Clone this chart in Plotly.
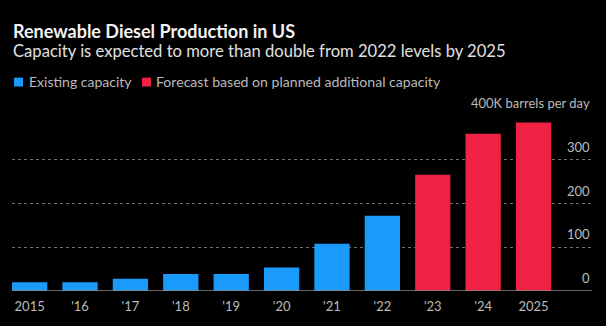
import plotly.graph_objects as go

years_existing = ["2015", "'16", "'17", "'18", "'19", "'20", "'21", "'22"]
values_existing = [20, 20, 28, 39, 39, 54, 108, 172]
years_forecast = ["'23", "'24", "2025"]
values_forecast = [266, 360, 386]
categories = years_existing + years_forecast
y_ticks = [0, 100, 200, 300]
y_top_label = "400K barrels per day"

BLUE = "#1A9BFC"
RED = "#EF2243"
W, H = 606, 326
ML, MR, MT, MB = 12, 14, 116, 32
PW, PH = W - ML - MR, H - MT - MB
FONT = "Lato"


def px_x(x):
    return (x - ML) / PW


def px_y(y):
    return (H - MB - y) / PH


fig = go.Figure()
fig.add_trace(go.Bar(x=years_existing, y=values_existing, marker_color=BLUE,
                     marker_line_width=0, width=0.7, name="Existing capacity",
                     showlegend=False))
fig.add_trace(go.Bar(x=years_forecast, y=values_forecast, marker_color=RED,
                     marker_line_width=0, width=0.7,
                     name="Forecast based on planned additional capacity",
                     showlegend=False))

annotations = [
    dict(text="<b>Renewable Diesel Production in US</b>", x=px_x(11), y=px_y(30),
         xanchor="left", yanchor="middle", font=dict(size=18, color="#F2F2F2")),
    dict(text="Capacity is expected to more than double from 2022 levels by 2025",
         x=px_x(11), y=px_y(49.5), xanchor="left", yanchor="middle",
         font=dict(size=16.6, color="#E0E0E0")),
    dict(text="Existing capacity", x=px_x(27), y=px_y(81), xanchor="left",
         yanchor="middle", font=dict(size=14, color="#BBBBBB")),
    dict(text="Forecast based on planned additional capacity", x=px_x(154),
         y=px_y(81), xanchor="left", yanchor="middle",
         font=dict(size=14.1, color="#BBBBBB")),
]
for v in y_ticks:
    annotations.append(dict(text=str(v), x=1, y=v, yref="y", xanchor="right",
                            yanchor="bottom", yshift=3, showarrow=False,
                            font=dict(size=13, color="#BBBBBB")))
annotations.append(dict(text=y_top_label, x=1, y=400, yref="y", xanchor="right",
                        yanchor="bottom", yshift=3, showarrow=False,
                        font=dict(size=13, color="#BBBBBB")))
for a in annotations:
    a.setdefault("xref", "paper")
    a.setdefault("yref", "paper")
    a.setdefault("showarrow", False)

shapes = [
    dict(type="rect", xref="paper", yref="paper", x0=px_x(14), x1=px_x(23),
         y0=px_y(77), y1=px_y(86), fillcolor=BLUE, line_width=0),
    dict(type="rect", xref="paper", yref="paper", x0=px_x(142), x1=px_x(151),
         y0=px_y(77), y1=px_y(86), fillcolor=RED, line_width=0),
    dict(type="line", xref="paper", yref="y", x0=0, x1=1, y0=0, y1=0,
         line=dict(color="#8A8A8A", width=1.5)),
]

fig.update_layout(
    width=W, height=H,
    margin=dict(l=ML, r=MR, t=MT, b=MB, pad=0),
    paper_bgcolor="#000000", plot_bgcolor="#000000",
    font=dict(family=FONT, color="#BBBBBB"),
    barmode="overlay",
    annotations=annotations,
    shapes=shapes,
    showlegend=False,
    xaxis=dict(type="category", categoryorder="array", categoryarray=categories,
               range=[-0.35, 11.16], showgrid=False, zeroline=False,
               showline=False, ticks="", ticklabelstandoff=6,
               tickfont=dict(size=13, color="#BBBBBB"), fixedrange=True),
    yaxis=dict(range=[0, 400.6], tickvals=[100, 200, 300, 400],
               showticklabels=False, showgrid=True, gridcolor="#707070",
               griddash="dot", gridwidth=1, zeroline=False, showline=False,
               fixedrange=True),
)

fig.write_html("out.html")
